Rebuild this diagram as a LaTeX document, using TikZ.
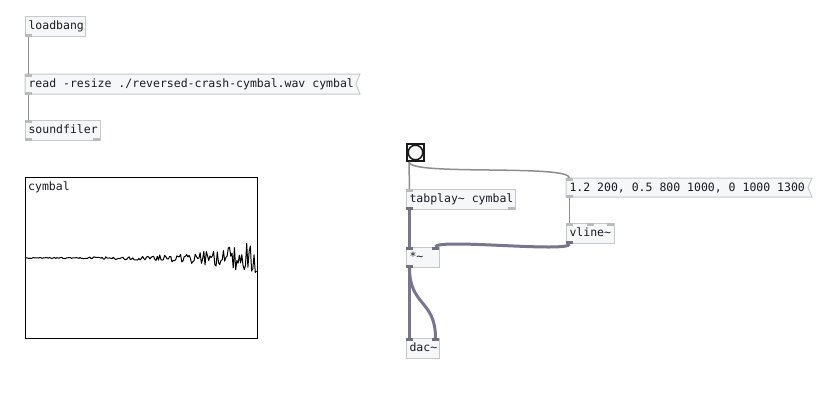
\documentclass[tikz,border=0pt]{standalone}
\usepackage{fontspec}
\newfontfamily\pdfont{DejaVu Sans Mono}
\usetikzlibrary{calc}
\definecolor{boxborder}{HTML}{C6C8CA}
\definecolor{boxfill}{HTML}{F6F7F8}
\definecolor{ctlline}{HTML}{8C908C}
\definecolor{sigline}{HTML}{77768E}
\definecolor{ioctl}{HTML}{B8BABC}
\definecolor{iosig}{HTML}{707080}
\definecolor{pdtext}{HTML}{1A1A24}
\newcommand{\pdIn}[3][ioctl]{\fill[#1] ([xshift=#3]#2.north west) rectangle ++(7,3);}
\newcommand{\pdOut}[3][ioctl]{\fill[#1] ([xshift=#3]#2.south west) rectangle ++(7,-3);}
\newcommand{\pdsp}{\kern0.602em\relax}
\tikzset{
  pdtxt/.style={font=\pdfont\fontsize{11.5}{13}\selectfont, text=pdtext},
  pdbox/.style={pdtxt, draw=boxborder, fill=boxfill, line width=1pt, anchor=north west,
    inner xsep=3pt, inner ysep=0pt, minimum height=20pt, text width=#1, align=left,
    text height=9pt, text depth=2.5pt},
  pdmsg/.style={pdbox=#1, draw=none, fill=none},
  msgflag/.style={draw=boxborder, fill=boxfill, line width=1pt},
  ctl/.style={draw=ctlline, line width=1.5pt},
  sig/.style={draw=sigline, line width=3pt},
}
\begin{document}
\begin{tikzpicture}[x=1pt,y=-1pt]
\useasboundingbox[fill=white] (0,0) rectangle (831,408);

% ---------- left column ----------
\node[pdbox=54pt] (loadbang) at (25,16) {loadbang};
\pdOut{loadbang}{0pt}

\path[msgflag] (25,74) -- (360,74) -- (356,84) -- (360,94) -- (25,94) -- cycle;
\node[pdmsg=325pt] (msg1) at (25,74) {\mbox{read\pdsp-resize\pdsp./reversed-crash-cymbal.wav\pdsp cymbal}};
\pdIn{msg1}{0pt}
\pdOut{msg1}{0pt}

\node[pdbox=69pt] (sf) at (25,120) {soundfiler};
\pdIn{sf}{0pt}
\pdOut{sf}{0pt}
\pdOut{sf}{68pt}

\draw[ctl] ([xshift=3.5pt]loadbang.south west) -- ([xshift=3.5pt]msg1.north west);
\draw[ctl] ([xshift=3.5pt]msg1.south west) -- ([xshift=3.5pt]sf.north west);

% ---------- array ----------
\node[draw=black, line width=1.2pt, anchor=north west, minimum width=232pt,
      minimum height=161pt, inner sep=0pt] (arr) at (25,177) {};
\node[pdtxt, anchor=north west, inner sep=0pt] (arrlabel) at (28,181) {cymbal};
\begin{scope}
  \clip (arr.north west) rectangle (arr.south east);
  \pgfmathsetseed{23}
  \draw[line width=1pt, line join=round] plot[domain=0:1, samples=190]
     ({25+232*\x},{258+(0.3+19*exp(4.6*(\x-1)))*rand});
\end{scope}

% ---------- right patch ----------
\node[draw=black!90, fill=boxfill, line width=2pt, anchor=north west, minimum size=17pt,
      inner sep=0pt] (bang) at (406,143) {};
\draw[black!90, line width=1.5pt] (bang.center) circle (7.3pt);

\node[pdbox=103pt] (tabplay) at (406,189) {\mbox{tabplay\~{}\pdsp cymbal}};
\pdIn{tabplay}{0pt}
\pdOut[iosig]{tabplay}{0pt}
\pdOut{tabplay}{102pt}

\path[msgflag] (566,178) -- (812,178) -- (808,187.5) -- (812,197) -- (566,197) -- cycle;
\node[pdmsg=236pt, minimum height=19pt] (msg2) at (566,178) {\mbox{1.2\pdsp200,\pdsp0.5\pdsp800\pdsp1000,\pdsp0\pdsp1000\pdsp1300}};
\pdIn{msg2}{0pt}
\pdOut{msg2}{0pt}

\node[pdbox=42pt] (vline) at (566,223) {vline\~{}};
\pdIn{vline}{0pt}
\pdIn{vline}{20.5pt}
\pdIn{vline}{41pt}
\pdOut[iosig]{vline}{0pt}

\node[pdbox=27pt] (mul) at (406,247) {*\~{}};
\pdIn[iosig]{mul}{0pt}
\pdIn[iosig]{mul}{26pt}
\pdOut[iosig]{mul}{0pt}

\node[pdbox=27pt] (dac) at (406,338) {dac\~{}};
\pdIn[iosig]{dac}{0pt}
\pdIn[iosig]{dac}{26pt}

% connections
\draw[ctl] ([xshift=3pt]bang.south west) -- ([xshift=3.5pt]tabplay.north west);
\draw[ctl] ([xshift=3pt]bang.south west) .. controls +(0,14) and +(0,-14) .. ([xshift=3.5pt]msg2.north west);
\draw[ctl] ([xshift=3.5pt]msg2.south west) -- ([xshift=3.5pt]vline.north west);
\draw[sig] ([xshift=3.5pt]tabplay.south west) -- ([xshift=3.5pt]mul.north west);
\draw[sig] ([xshift=3.5pt]vline.south west) .. controls +(0,9) and +(0,-9) .. ([xshift=29.5pt]mul.north west);
\draw[sig] ([xshift=3.5pt]mul.south west) -- ([xshift=3.5pt]dac.north west);
\draw[sig] ([xshift=3.5pt]mul.south west) .. controls +(0,38) and +(0,-38) .. ([xshift=29.5pt]dac.north west);

% redraw inlets over the connection ends
\pdIn{tabplay}{0pt}
\pdIn{msg2}{0pt}
\pdIn{vline}{0pt}
\pdIn[iosig]{mul}{0pt}
\pdIn[iosig]{mul}{26pt}
\pdIn[iosig]{dac}{0pt}
\pdIn[iosig]{dac}{26pt}
\end{tikzpicture}
\end{document}
